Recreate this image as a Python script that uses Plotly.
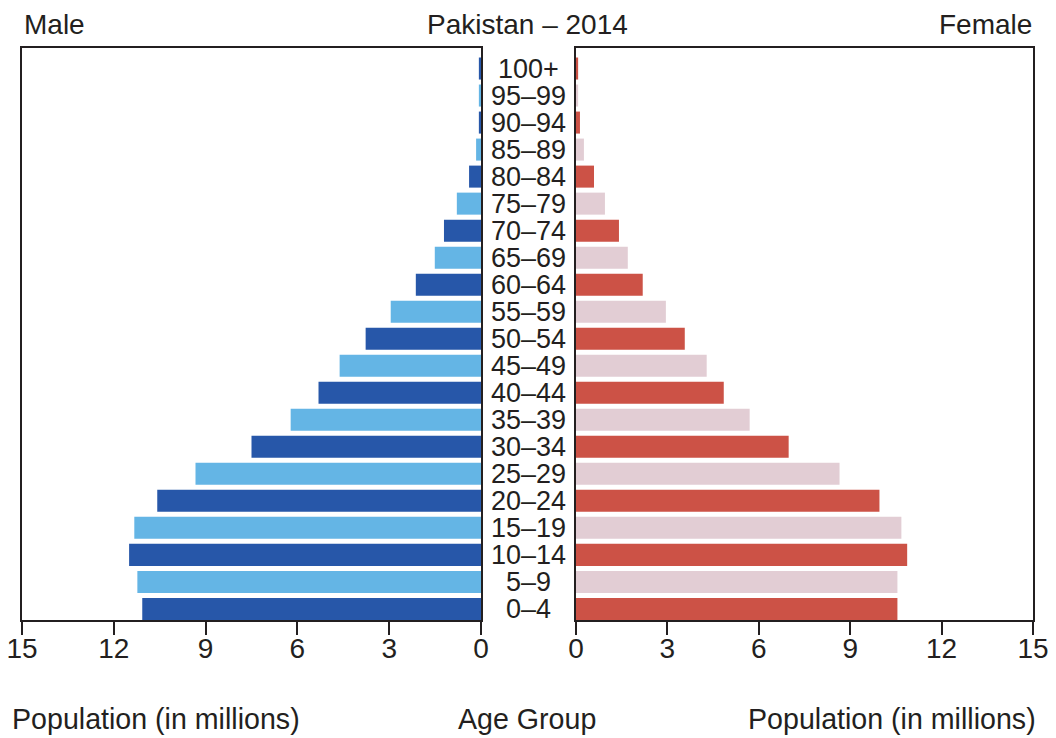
import plotly.graph_objects as go

ages = ["0–4", "5–9", "10–14", "15–19", "20–24", "25–29", "30–34", "35–39",
        "40–44", "45–49", "50–54", "55–59", "60–64", "65–69", "70–74", "75–79",
        "80–84", "85–89", "90–94", "95–99", "100+"]
male = [11.07, 11.23, 11.50, 11.33, 10.58, 9.33, 7.50, 6.22, 5.31, 4.62, 3.77,
        2.95, 2.13, 1.51, 1.21, 0.79, 0.39, 0.16, 0.07, 0.07, 0.07]
female = [10.55, 10.55, 10.87, 10.68, 9.96, 8.65, 6.98, 5.70, 4.85, 4.29, 3.57,
          2.95, 2.19, 1.70, 1.41, 0.95, 0.59, 0.26, 0.13, 0.07, 0.07]
ticks = [0, 3, 6, 9, 12, 15]

MALE_DARK, MALE_LIGHT = "#2757A9", "#64B5E5"
FEM_DARK, FEM_LIGHT = "#CC5246", "#E2CDD4"
INK = "#231F20"
FONT = "Liberation Sans, Arial, Helvetica, sans-serif"

male_colors = [MALE_DARK if i % 2 == 0 else MALE_LIGHT for i in range(len(ages))]
fem_colors = [FEM_DARK if i % 2 == 0 else FEM_LIGHT for i in range(len(ages))]

fig = go.Figure()
fig.add_trace(go.Bar(y=ages, x=male, orientation="h", marker=dict(color=male_colors, line=dict(width=0)),
                     xaxis="x", yaxis="y", showlegend=False))
fig.add_trace(go.Bar(y=ages, x=female, orientation="h", marker=dict(color=fem_colors, line=dict(width=0)),
                     xaxis="x2", yaxis="y2", showlegend=False))

# page has an 8px body margin: figure is drawn offset by OFF
OFF = 8
W, H = 1056 - OFF, 738 - OFF
TOP, BOT = 48 - OFF, 620 - OFF

def px(x):
    return (x - OFF) / W

xax = dict(showgrid=False, zeroline=False, showline=True, linewidth=2, linecolor=INK, mirror=True,
           ticks="outside", ticklen=13, tickwidth=2, tickcolor=INK, tickvals=ticks,
           ticklabelstandoff=-11, ticklabeloverflow="allow",
           tickfont=dict(family=FONT, size=28, color=INK), fixedrange=True, automargin=False)
yax = dict(showgrid=False, zeroline=False, showline=True, linewidth=2, linecolor=INK, mirror=True,
           ticks="", showticklabels=False, range=[-0.41, 20.76], type="category", automargin=False)

fig.update_layout(
    template="none",
    width=W, height=H,
    margin=dict(l=0, r=0, t=TOP, b=H - BOT, pad=0, autoexpand=False),
    paper_bgcolor="white", plot_bgcolor="white",
    bargap=0.185,
    font=dict(family=FONT, size=28, color=INK),
    xaxis=dict(xax, domain=[px(22), px(481)], range=[15, 0], anchor="y"),
    xaxis2=dict(xax, domain=[px(576), px(1033)], range=[0, 15], anchor="y2"),
    yaxis=dict(yax, anchor="x"),
    yaxis2=dict(yax, anchor="x2", matches="y"),
)

ann = []
for a in ages:
    ann.append(dict(x=px(528.5), xref="paper", y=a, yref="y", text=a, showarrow=False,
                    xanchor="center", yanchor="middle", font=dict(size=27, color=INK, family=FONT)))

def txt(x, y, t, xa, size=28):
    return dict(x=px(x), y=(BOT - (y - OFF)) / (BOT - TOP), xref="paper", yref="paper", text=t,
                showarrow=False, xanchor=xa, yanchor="middle", font=dict(size=size, color=INK, family=FONT))

ann += [
    txt(22, 24, "Male", "left"),
    txt(527, 24, "Pakistan – 2014", "center"),
    txt(1034, 24, "Female", "right"),
    txt(10, 719, "Population (in millions)", "left", 28.6),
    txt(527, 719, "Age Group", "center", 28.6),
    txt(1038, 719, "Population (in millions)", "right", 28.6),
]
fig.update_layout(annotations=ann)

fig.write_html("out.html", config={"displayModeBar": False})
